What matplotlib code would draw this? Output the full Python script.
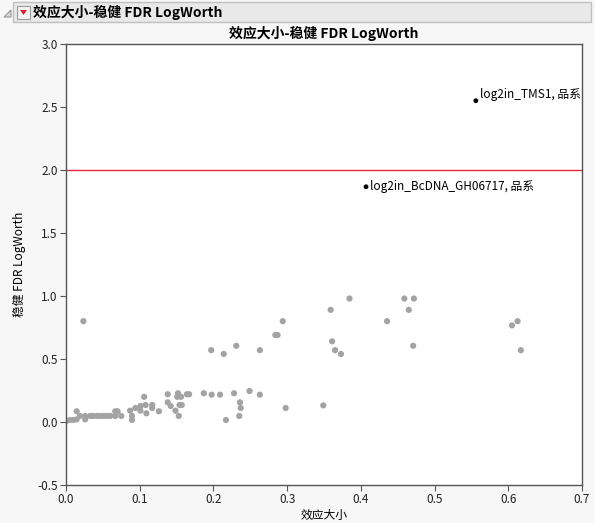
import matplotlib
matplotlib.use("Agg")
import matplotlib.pyplot as plt
from matplotlib.patches import Rectangle, Polygon

plt.rcParams['font.family'] = ['Noto Sans CJK SC', 'DejaVu Sans']

# 灰色点: 效应大小 / 稳健 FDR LogWorth
effect = [0.001, 0.0055, 0.010, 0.0145, 0.0145, 0.019, 0.026, 0.026, 0.0236,
          0.033, 0.037, 0.042, 0.046, 0.051, 0.055, 0.060, 0.0668, 0.070, 0.0668, 0.075,
          0.087, 0.0895, 0.0895, 0.094, 0.101, 0.101, 0.106, 0.108, 0.109, 0.117, 0.117,
          0.126, 0.138, 0.138, 0.142, 0.1485, 0.151, 0.152, 0.153, 0.154, 0.156, 0.157,
          0.164, 0.167, 0.187, 0.1976, 0.197, 0.209, 0.214, 0.217, 0.228, 0.231, 0.235,
          0.236, 0.237, 0.249, 0.263, 0.263, 0.284, 0.287, 0.294, 0.298,
          0.349, 0.359, 0.361, 0.365, 0.373, 0.3846, 0.4355, 0.459, 0.465, 0.471, 0.472,
          0.605, 0.6126, 0.617]
logworth = [0.01, 0.016, 0.016, 0.021, 0.085, 0.048, 0.048, 0.021, 0.80,
            0.048, 0.048, 0.048, 0.048, 0.048, 0.048, 0.048, 0.085, 0.085, 0.048, 0.048,
            0.09, 0.048, 0.016, 0.111, 0.127, 0.09, 0.20, 0.135, 0.069, 0.135, 0.111,
            0.085, 0.22, 0.156, 0.127, 0.09, 0.20, 0.228, 0.048, 0.135, 0.20, 0.135,
            0.22, 0.22, 0.228, 0.217, 0.57, 0.217, 0.54, 0.016, 0.228, 0.605, 0.048,
            0.156, 0.111, 0.246, 0.217, 0.57, 0.69, 0.69, 0.80, 0.111,
            0.132, 0.89, 0.64, 0.57, 0.54, 0.98, 0.80, 0.98, 0.89, 0.605, 0.98,
            0.767, 0.80, 0.57]

# 标记的点
label_x = [0.556, 0.407]
label_y = [2.55, 1.867]
label_text = ["log2in_TMS1, 品系", "log2in_BcDNA_GH06717, 品系"]

threshold = 2.0
title = "效应大小-稳健 FDR LogWorth"

fig = plt.figure(figsize=(5.95, 5.23), dpi=100, facecolor="#f7f7f7")

# 顶部标题栏
fig.patches.append(Rectangle((13 / 595, 1 - 22 / 523), 578 / 595, 20 / 523,
                             transform=fig.transFigure, facecolor="#e9e9e9",
                             edgecolor="#c0c0c0", linewidth=1))
fig.patches.append(Polygon([(4 / 595, 1 - 17 / 523), (11 / 595, 1 - 10 / 523), (11 / 595, 1 - 17 / 523)],
                           closed=True, transform=fig.transFigure, facecolor="#d8d8d8",
                           edgecolor="#999999", linewidth=0.8))
fig.patches.append(Rectangle((17 / 595, 1 - 19 / 523), 13 / 595, 13 / 523,
                             transform=fig.transFigure, facecolor="#f4f4f4",
                             edgecolor="#9a9a9a", linewidth=0.8))
fig.patches.append(Polygon([(20 / 595, 1 - 10 / 523), (27 / 595, 1 - 10 / 523), (23.5 / 595, 1 - 15 / 523)],
                           closed=True, transform=fig.transFigure, facecolor="#e0202a",
                           edgecolor="none"))
fig.text(33 / 595, 1 - 12 / 523, title, fontsize=10, fontweight="bold", va="center", ha="left")

ax = fig.add_axes([66 / 595, 1 - 485 / 523, 516 / 595, 441 / 523])
ax.set_facecolor("white")
ax.scatter(effect, logworth, s=20, color="#a3a3a3", edgecolors="none", zorder=2)
ax.scatter(label_x, label_y, s=12, color="black", edgecolors="none", zorder=3)
for x, y, t in zip(label_x, label_y, label_text):
    ax.annotate(t, (x, y), xytext=(3, 0), textcoords="offset points",
                fontsize=8.5, va="bottom" if y > 2.2 else "center", ha="left")
ax.axhline(threshold, color="#e8243a", linewidth=1, zorder=1)

ax.set_xlim(0, 0.7)
ax.set_ylim(-0.5, 3.0)
ax.set_xticks([0.0, 0.1, 0.2, 0.3, 0.4, 0.5, 0.6, 0.7])
ax.set_yticks([-0.5, 0.0, 0.5, 1.0, 1.5, 2.0, 2.5, 3.0])
ax.xaxis.set_major_formatter(matplotlib.ticker.FormatStrFormatter("%.1f"))
ax.yaxis.set_major_formatter(matplotlib.ticker.FormatStrFormatter("%.1f"))
ax.tick_params(direction="out", length=4, width=0.8, color="#555555", labelsize=8.5,
               labelcolor="#222222", pad=2)
for s in ax.spines.values():
    s.set_color("#555555")
    s.set_linewidth(1)

ax.set_title(title, fontsize=10, fontweight="bold", pad=4)
ax.set_xlabel("效应大小", fontsize=8.5, labelpad=2)
ax.set_ylabel("稳健 FDR LogWorth", fontsize=8.5, labelpad=8)

fig.savefig("out.png", dpi=100, facecolor=fig.get_facecolor())
